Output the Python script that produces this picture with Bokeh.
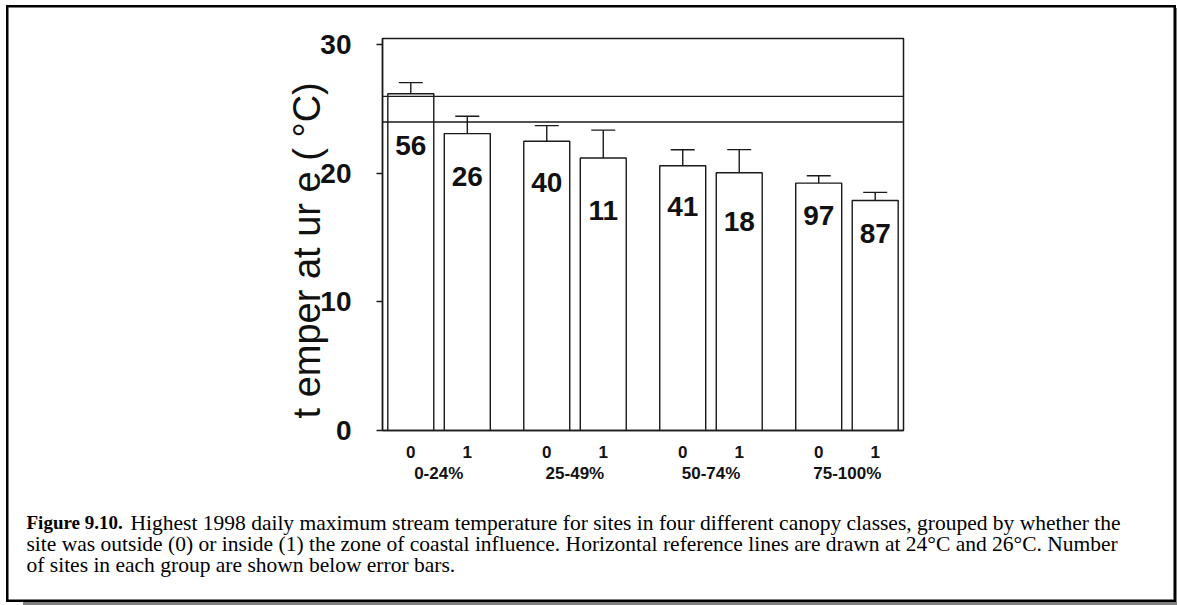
from bokeh.plotting import figure
from bokeh.layouts import column
from bokeh.models import (ColumnDataSource, FactorRange, Range1d, Span, Whisker,
                          TeeHead, FixedTicker, CategoricalAxis)
from bokeh.core.properties import value
from bokeh.embed import file_html
from bokeh.resources import INLINE

# ---- data ----
groups = ["0-24%", "25-49%", "50-74%", "75-100%"]
zones = ["0", "1"]
means = [26.2, 23.1, 22.5, 21.2, 20.6, 20.05, 19.25, 17.9]
errors = [0.87, 1.35, 1.22, 2.17, 1.24, 1.8, 0.57, 0.63]
counts = [56, 26, 40, 11, 41, 18, 97, 87]
ref_lines = [24, 26]
y_ticks = [0, 10, 20, 30]
y_label = "t emper at ur e ( °C)"
caption_bold = "Figure 9.10."
caption_1 = ("Highest 1998 daily maximum stream temperature for sites in four different "
             "canopy classes, grouped by whether the")
caption_2 = ("site was outside (0) or inside (1) the zone of coastal influence. Horizontal "
             "reference lines are drawn at 24°C and 26°C. Number")
caption_3 = "of sites in each group are shown below error bars."

factors = [(g, z) for g in groups for z in zones]
lower = [m - e for m, e in zip(means, errors)]
upper = [m + e for m, e in zip(means, errors)]
label_y = [min(lo - 1.95, min(ref_lines) - 1.85) for lo in lower]

src = ColumnDataSource(dict(x=factors, top=means, lower=lower, upper=upper,
                            label_y=label_y, txt=[str(c) for c in counts]))

# ---- layout geometry (column placed at 6,5 on the page) ----
CW, CH = 1170, 597          # whole boxed figure
H1 = 490                    # chart part
H2 = CH - H1                # caption part
FL, FT, FW, FH = 376, 33, 521, 392
INK = "#1a1a1a"

p = figure(width=CW, height=H1, output_backend="svg", toolbar_location=None,
           x_range=FactorRange(*factors, factor_padding=0.106, group_padding=0.556,
                               range_padding=0.054, range_padding_units="absolute"),
           y_range=Range1d(0, 30.5),
           min_border_left=FL, min_border_right=CW - FL - FW,
           min_border_top=FT, min_border_bottom=H1 - FT - FH)
p.frame_align = False
p.extra_x_ranges = {"groups": FactorRange(*groups, factor_padding=1.0, range_padding=0.326,
                                          range_padding_units="absolute")}
p.background_fill_color = "white"
p.border_fill_color = None
p.outline_line_color = INK
p.outline_line_width = 1.5
p.xgrid.visible = False
p.ygrid.visible = False

p.vbar(x="x", top="top", width=0.9, source=src, fill_color="white",
       line_color=INK, line_width=1.4)

for r in ref_lines:
    p.add_layout(Span(location=r, dimension="width", line_color=INK, line_width=1.4))

p.add_layout(Whisker(base="x", upper="upper", lower="lower", source=src,
                     line_color=INK, line_width=1.4,
                     upper_head=TeeHead(size=24, line_color=INK, line_width=1.4),
                     lower_head=TeeHead(size=24, line_color=INK, line_width=1.4)))

p.text(x="x", y="label_y", text="txt", source=src, text_font=value("Liberation Sans"),
       text_font_style="bold", text_font_size="28px", text_align="center",
       text_baseline="middle", text_color="#111111")

# y axis
ya = p.yaxis[0]
ya.ticker = FixedTicker(ticks=y_ticks)
ya.minor_tick_line_color = None
ya.major_tick_in = 0
ya.major_tick_out = 6
ya.major_tick_line_color = INK
ya.major_tick_line_width = 1.4
ya.axis_line_color = INK
ya.axis_line_width = 1.4
ya.major_label_text_font = "Liberation Sans"
ya.major_label_text_font_style = "bold"
ya.major_label_text_font_size = "28px"
ya.major_label_text_color = "#111111"
ya.major_label_standoff = 25
ya.axis_label = y_label + "\u00a0\u00a0\u00a0"
ya.axis_label_text_font = "Liberation Sans"
ya.axis_label_text_font_style = "normal"
ya.axis_label_text_font_size = "38px"
ya.axis_label_text_color = "#111111"
ya.axis_label_standoff = -11

# x axis: zone labels
xa = p.xaxis[0]
xa.major_tick_line_color = None
xa.minor_tick_line_color = None
xa.axis_line_color = INK
xa.axis_line_width = 1.4
xa.major_label_text_font = "Liberation Sans"
xa.major_label_text_font_style = "bold"
xa.major_label_text_font_size = "17px"
xa.major_label_text_color = "#111111"
xa.major_label_standoff = 9
xa.group_text_font_size = "0px"
xa.group_text_color = None
xa.separator_line_color = None

# x axis: canopy class labels
ga = CategoricalAxis(x_range_name="groups")
ga.axis_line_color = None
ga.major_tick_line_color = None
ga.minor_tick_line_color = None
ga.major_label_text_font = "Liberation Sans"
ga.major_label_text_font_style = "bold"
ga.major_label_text_font_size = "17px"
ga.major_label_text_color = "#111111"
ga.major_label_standoff = -3
p.add_layout(ga, "below")

# ---- caption ----
c = figure(width=CW, height=H2, output_backend="svg", toolbar_location=None,
           x_range=Range1d(0, CW), y_range=Range1d(H2, 0),
           min_border=0, min_border_left=0, min_border_right=0,
           min_border_top=0, min_border_bottom=0)
c.frame_align = False
c.axis.visible = False
c.grid.visible = False
c.outline_line_color = None
c.background_fill_color = None
c.border_fill_color = None

cap_font = value("Liberation Serif")
c.text(x=[20], y=[27], text=[caption_bold], text_font=cap_font, text_font_style="bold",
       text_font_size="19px", text_baseline="alphabetic", text_color="black")
c.text(x=[124, 20, 20], y=[27, 48, 69], text=[caption_1, caption_2, caption_3],
       text_font=cap_font, text_font_size="21.5px", text_baseline="alphabetic",
       text_color="black")

layout = column(p, c, spacing=0, margin=(5, 0, 0, 6),
                styles={"background-color": "white",
                        "outline": "2.5px solid black",
                        "outline-offset": "-2.5px",
                        "box-shadow": "inset 2.5px 2.5px 0 0 black, inset -2.5px -2.5px 0 0 black, 17px 3px 0 0 #808080"})

open("out.html", "w").write(file_html(layout, INLINE))
